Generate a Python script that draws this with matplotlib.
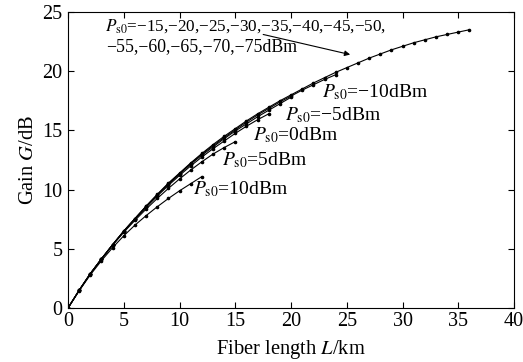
import numpy as np
import matplotlib
matplotlib.use('Agg')
import matplotlib.pyplot as plt

plt.rcParams['font.family'] = ['Liberation Serif', 'DejaVu Serif']
plt.rcParams['mathtext.fontset'] = 'stix'

# gain (dB) read at each km of fiber
g_bundle = [0, 1.5, 2.9, 4.15, 5.35, 6.5, 7.55, 8.6, 9.6, 10.55, 11.4, 12.25, 13.05,
            13.8, 14.5, 15.15, 15.8, 16.4, 16.95, 17.5, 18.0, 18.5, 19.0, 19.45, 19.9,
            20.3, 20.7, 21.1, 21.45, 21.8, 22.1, 22.4, 22.65, 22.9, 23.1, 23.3, 23.5]
g_m10 = [0, 1.5, 2.9, 4.15, 5.35, 6.5, 7.55, 8.6, 9.55, 10.5, 11.35, 12.2, 13.0,
         13.7, 14.4, 15.05, 15.7, 16.3, 16.85, 17.4, 17.9, 18.4, 18.85, 19.3, 19.7]
g_m5 = [0, 1.5, 2.9, 4.15, 5.35, 6.5, 7.55, 8.55, 9.55, 10.45, 11.3, 12.15, 12.9,
        13.6, 14.3, 14.95, 15.55, 16.15, 16.7, 17.25, 17.8]
g_0 = [0, 1.5, 2.9, 4.15, 5.35, 6.45, 7.5, 8.5, 9.45, 10.35, 11.2, 12.0, 12.75,
       13.45, 14.1, 14.75, 15.35, 15.9, 16.4]
g_5 = [0, 1.5, 2.9, 4.15, 5.3, 6.4, 7.4, 8.35, 9.25, 10.1, 10.9, 11.65, 12.35,
       13.0, 13.55, 14.05]
g_10 = [0, 1.45, 2.8, 4.0, 5.1, 6.1, 7.0, 7.8, 8.55, 9.25, 9.9, 10.5, 11.1]

labels = ['$P_{\\rm s0}$=\u221210dBm', '$P_{\\rm s0}$=\u22125dBm', '$P_{\\rm s0}$=0dBm',
          '$P_{\\rm s0}$=5dBm', '$P_{\\rm s0}$=10dBm']
label_pos = [(22.8, 18.2), (19.5, 16.3), (16.6, 14.6), (13.8, 12.5), (11.2, 10.0)]

fig = plt.figure(figsize=(5.23, 3.62), dpi=100)
ax = fig.add_axes([0.130, 0.149, 0.853, 0.818])

for g in [g_bundle, g_m10, g_m5, g_0, g_5, g_10]:
    L = np.arange(len(g))
    ax.plot(L, g, color='black', lw=0.8, marker='o', ms=1.6)

for t, (x, y) in zip(labels, label_pos):
    ax.text(x, y, t, fontsize=14, va='center', ha='left')

ax.text(3.3, 23.8, '$P_{\\rm s0}$=\u221215,\u221220,\u221225,\u221230,\u221235,\u221240,\u221245,\u221250,',
        fontsize=12.3, va='center', ha='left')
ax.text(3.4, 22.1, '\u221255,\u221260,\u221265,\u221270,\u221275dBm',
        fontsize=12.8, va='center', ha='left')
ax.annotate('', xy=(25.3, 21.4), xytext=(17.5, 23.1),
            arrowprops=dict(arrowstyle='-|>', color='black', lw=0.8,
                            mutation_scale=8, shrinkA=0, shrinkB=0))

ax.set_xlim(0, 40)
ax.set_ylim(0, 25)
ax.set_xticks([0, 5, 10, 15, 20, 25, 30, 35, 40])
ax.set_yticks([0, 5, 10, 15, 20, 25])
ax.tick_params(direction='in', top=True, right=True, labelsize=14.5, length=4, width=0.8)
ax.tick_params(axis='x', pad=3)
ax.tick_params(axis='y', pad=4)
ax.set_xlabel('Fiber length $L$/km', fontsize=14.8, labelpad=5)
ax.set_ylabel('Gain $G$/dB', fontsize=14.8, labelpad=3)

fig.savefig('out.png', dpi=100)
